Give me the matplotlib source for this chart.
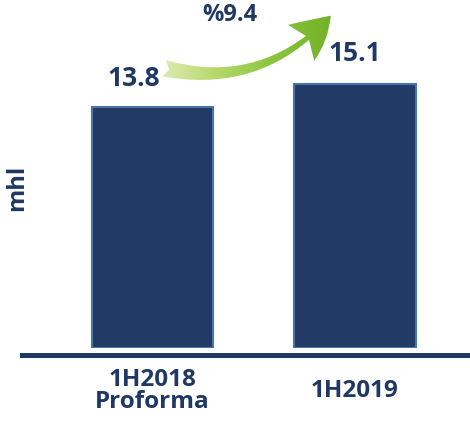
import numpy as np
import matplotlib
matplotlib.use("Agg")
import matplotlib.pyplot as plt
from matplotlib.patches import FancyArrowPatch, ArrowStyle
from matplotlib.colors import LinearSegmentedColormap

periods = ["1H2018\nProforma", "1H2019"]
volumes = [13.8, 15.1]
growth_label = "%9.4"
unit_label = "mhl"

navy = "#1F3864"
bar_face = "#223A66"
bar_edge = "#4777A8"

plt.rcParams['font.family'] = ['Open Sans', 'DejaVu Sans']
plt.rcParams['font.weight'] = 'bold'

fig = plt.figure(figsize=(4.70, 4.21), dpi=100)
# axes spans from the baseline start to the right edge, bar bottoms at y=0
ax = fig.add_axes([22 / 470, 73 / 421, 448 / 470, 348 / 421])

x = np.arange(len(periods))
bars = ax.bar(x, volumes, width=0.6, color=bar_face, edgecolor=bar_edge, linewidth=1.5, zorder=2)

ax.set_xlim(-0.644, 1.568)
ax.set_ylim(0, 19.93)

for s in ax.spines.values():
    s.set_visible(False)
ax.set_yticks([])
ax.set_xticks(x)
ax.set_xticklabels(periods, fontsize=17.5, fontweight='bold', color=navy, linespacing=0.9, va='center')
ax.tick_params(axis='x', length=0, pad=31)

# baseline under the bars
ax.axhline(-0.4, xmin=0, xmax=1, color=navy, linewidth=3.6, clip_on=False, zorder=3)

# value labels
offsets = [(-0.09, 1.65), (0.0, 1.75)]
for bar, v, (dx, dy) in zip(bars, volumes, offsets):
    ax.text(bar.get_x() + bar.get_width() / 2 + dx, v + dy, f"{v}", ha='center', va='center',
            fontsize=19, fontweight='bold', color=navy)

# growth arrow with green gradient
start = (0.045, volumes[0] + 2.25)
end = (0.89, volumes[1] + 4.05)
arrow = FancyArrowPatch(start, end, connectionstyle="arc3,rad=0.3",
                        arrowstyle=ArrowStyle.Fancy(head_length=29, head_width=32, tail_width=12),
                        mutation_scale=1, facecolor='none', edgecolor='none', zorder=4)
ax.add_patch(arrow)
greens = LinearSegmentedColormap.from_list("greens", ["#E6EFC0", "#B5D86A", "#86C23A", "#6FAE25"])
grad = np.linspace(0, 1, 256).reshape(1, -1)
img = ax.imshow(grad, cmap=greens, extent=(0.0, 0.95, 15.0, 19.93), aspect='auto', zorder=4)
img.set_clip_path(arrow)
ax.set_xlim(-0.644, 1.568)
ax.set_ylim(0, 19.93)

ax.text(0.38, 19.05, growth_label, ha='center', va='center', fontsize=17, fontweight='bold', color=navy)

fig.text(17 / 470, 1 - 188 / 421, unit_label, rotation=90, ha='center', va='center',
         fontsize=17, fontweight='bold', color=navy)

fig.savefig("out.png", dpi=100)
